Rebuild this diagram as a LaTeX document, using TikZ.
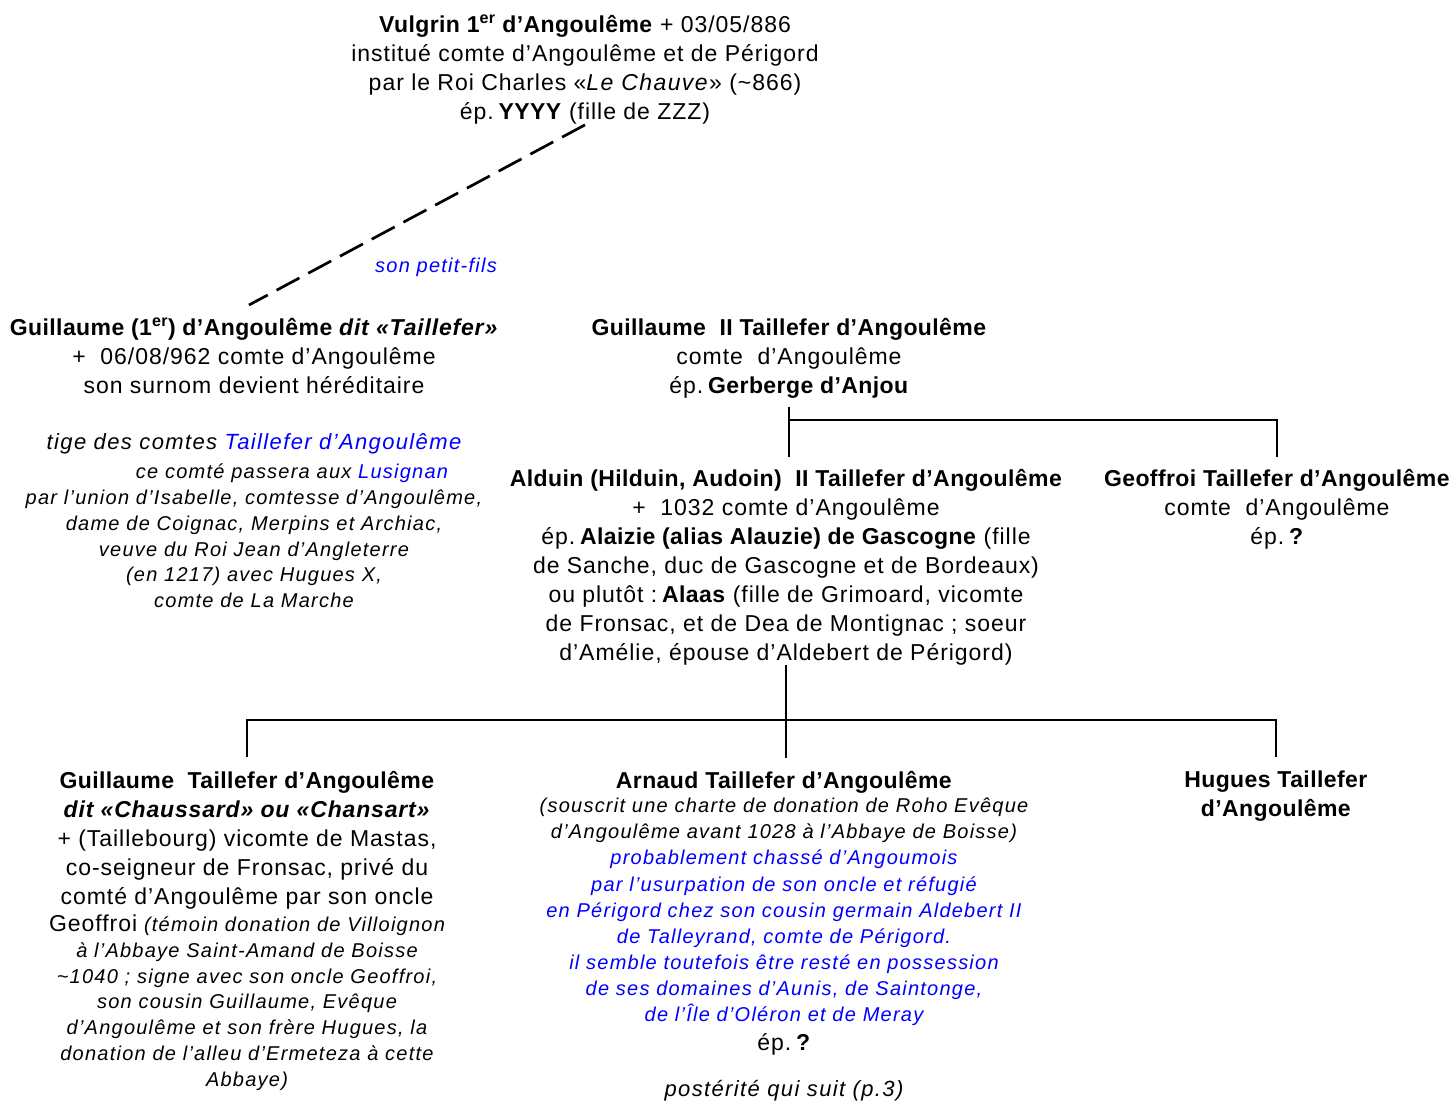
\documentclass[tikz,border=0pt]{standalone}
\usepackage{fontspec}
\setmainfont{Liberation Sans}[LetterSpace=4.2, BoldFeatures={LetterSpace=1.8}, ItalicFeatures={LetterSpace=6.2}, BoldItalicFeatures={LetterSpace=3.6}]
\usetikzlibrary{calc}
\definecolor{lblue}{RGB}{0,0,255}
\newcommand{\tb}[1]{\kern-5pt\textbf{#1}}
\begin{document}
\begin{tikzpicture}[x=1pt,y=-1pt,
  txt/.style={align=center, inner sep=0pt, anchor=north, font=\fontsize{23}{29}\selectfont},
  itx/.style={align=center, inner sep=0pt, anchor=north, font=\fontsize{20}{25.7}\selectfont\itshape},
  link/.style={line width=2.7pt},
  dashlink/.style={line width=2.7pt, dash pattern=on 26pt off 10pt}]
\useasboundingbox (0,0) rectangle (1454,1103);

\node[txt] (vulgrin) at (585,15) {\textbf{Vulgrin 1\textsuperscript{er} d’Angoulême} + 03/05/886\\institué comte d’Angoulême et de Périgord\\par le Roi Charles «\textit{Le Chauve}» (\textasciitilde866)\\ép. \tb{YYYY} (fille de ZZZ)};

\node[txt] (g1) at (254,318) {\textbf{Guillaume (1\textsuperscript{er}) d’Angoulême \textit{dit «Taillefer»}}\\+\ \ 06/08/962 comte d’Angoulême\\son surnom devient héréditaire};
\node[txt, font=\fontsize{22}{29}\selectfont\itshape] (g1tige) at (254,433) {tige des comtes \textcolor{lblue}{Taillefer d’Angoulême}};
\node[itx] (g1note) at (254,464) {\hspace*{76pt}ce comté passera aux \textcolor{lblue}{Lusignan}\\par l’union d’Isabelle, comtesse d’Angoulême,\\dame de Coignac, Merpins et Archiac,\\veuve du Roi Jean d’Angleterre\\(en 1217) avec Hugues X,\\comte de La Marche};

\node[itx, anchor=center, text=lblue] (petitfils) at (436,267) {son petit-fils};

\node[txt] (g2) at (789,318) {\textbf{Guillaume\ \ II Taillefer d’Angoulême}\\comte\ \ d’Angoulême\\ép. \tb{Gerberge d’Anjou}};

\node[txt] (alduin) at (786,469) {\textbf{Alduin (Hilduin, Audoin)\ \ II Taillefer d’Angoulême}\\+\ \ 1032 comte d’Angoulême\\ép. \tb{Alaizie (alias Alauzie) de Gascogne} (fille\\de Sanche, duc de Gascogne et de Bordeaux)\\ou plutôt : \tb{Alaas} (fille de Grimoard, vicomte\\de Fronsac, et de Dea de Montignac ; soeur\\d’Amélie, épouse d’Aldebert de Périgord)};

\node[txt] (geoffroi) at (1277,469) {\textbf{Geoffroi Taillefer d’Angoulême}\\comte\ \ d’Angoulême\\ép. \tb{?}};

\node[txt] (gc) at (247,771) {\textbf{Guillaume\ \ Taillefer d’Angoulême}\\\textbf{\textit{dit «Chaussard» ou «Chansart»}}\\+ (Taillebourg) vicomte de Mastas,\\co-seigneur de Fronsac, privé du\\comté d’Angoulême par son oncle};
\node[itx] (gcnote) at (247,915) {{\upshape\fontsize{23}{25.7}\selectfont Geoffroi} (témoin donation de Villoignon\\à l’Abbaye Saint-Amand de Boisse\\\textasciitilde1040 ; signe avec son oncle Geoffroi,\\son cousin Guillaume, Evêque\\d’Angoulême et son frère Hugues, la\\donation de l’alleu d’Ermeteza à cette\\Abbaye)};

\node[txt] (arnaud) at (784,771) {\textbf{Arnaud Taillefer d’Angoulême}};
\node[itx, font=\fontsize{20}{26.1}\selectfont\itshape] (arnote) at (784,798) {(souscrit une charte de donation de Roho Evêque\\d’Angoulême avant 1028 à l’Abbaye de Boisse)\\\textcolor{lblue}{probablement chassé d’Angoumois}\\\textcolor{lblue}{par l’usurpation de son oncle et réfugié}\\\textcolor{lblue}{en Périgord chez son cousin germain Aldebert II}\\\textcolor{lblue}{de Talleyrand, comte de Périgord.}\\\textcolor{lblue}{il semble toutefois être resté en possession}\\\textcolor{lblue}{de ses domaines d’Aunis, de Saintonge,}\\\textcolor{lblue}{de l’Île d’Oléron et de Meray}};
\node[txt] (arnep) at (784,1033) {ép. \tb{?}};
\node[txt, font=\fontsize{22}{29}\selectfont\itshape] (arnpost) at (784,1080) {postérité qui suit (p.3)};

\node[txt] (hugues) at (1276,771) {\textbf{Hugues Taillefer}\\\textbf{d’Angoulême}};

% connectors
\draw[dashlink] (vulgrin.south) -- ([xshift=-5pt,yshift=13pt]g1.north);

\coordinate (t1) at (789,420);
\draw[link] ([yshift=-9pt]g2.south) -- ([yshift=12pt]g2.south |- alduin.north);
\draw[link] (t1) -| ([yshift=12pt]geoffroi.north);

\coordinate (t2) at (786,720);
\draw[link] (alduin.south) -- ([yshift=13pt]alduin.south |- arnaud.north);
\draw[link] (t2) -| ([yshift=14pt]gc.north);
\draw[link] (t2) -| ([yshift=14pt]hugues.north);
\end{tikzpicture}
\end{document}
